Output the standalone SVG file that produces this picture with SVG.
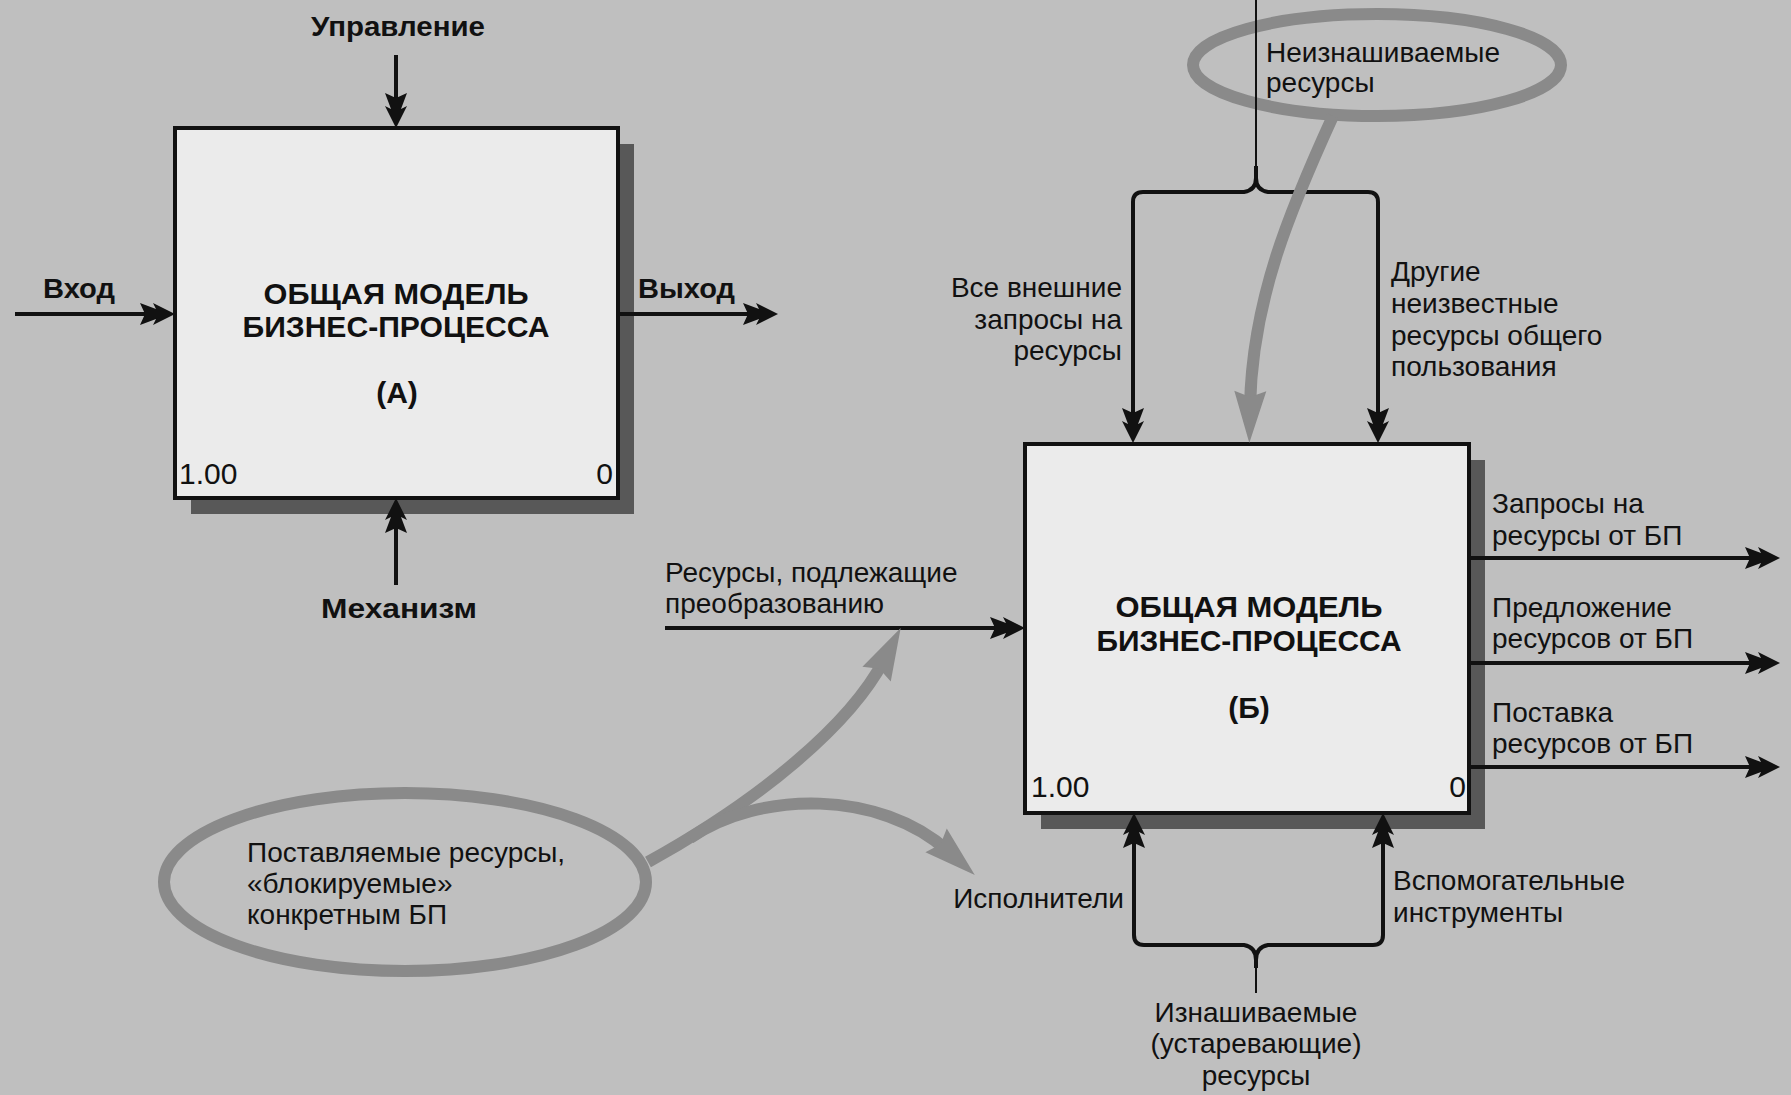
<svg xmlns="http://www.w3.org/2000/svg" width="1791" height="1095" viewBox="0 0 1791 1095">
<defs>
<style>
.bg{fill:#bfbfbf}
.box{fill:#ebebeb;stroke:#111;stroke-width:4}
.shadow{fill:#585858}
.ln{fill:none;stroke:#111;stroke-width:4}
.thin{fill:none;stroke:#111;stroke-width:2}
.gr{fill:none;stroke:#8a8a8a;stroke-width:12}
.t{font-family:"Liberation Sans","DejaVu Sans",sans-serif;font-size:28px;fill:#111}
.b{font-family:"Liberation Sans","DejaVu Sans",sans-serif;font-size:27px;font-weight:bold;fill:#111}
.title{font-family:"Liberation Sans","DejaVu Sans",sans-serif;font-size:30px;font-weight:bold;fill:#111;text-anchor:middle}
.num{font-family:"Liberation Sans","DejaVu Sans",sans-serif;font-size:30px;fill:#111}
</style>
<marker id="ah" markerUnits="userSpaceOnUse" markerWidth="60" markerHeight="40" refX="-12" refY="0" orient="auto" overflow="visible" viewBox="-40 -20 60 40">
<path d="M0,0 L-22,-11 L-19,-5 L-35,-11 L-30,0 L-35,11 L-19,5 L-22,11 Z" fill="#111"/>
</marker>
<marker id="gah" markerUnits="userSpaceOnUse" markerWidth="80" markerHeight="50" refX="-36" refY="0" orient="auto" overflow="visible" viewBox="-60 -25 80 50">
<path d="M0,0 L-52,-16 L-46,0 L-52,16 Z" fill="#8a8a8a"/>
</marker>
</defs>
<rect class="bg" x="0" y="0" width="1791" height="1095"/>

<g id="node-a">
<rect class="shadow" x="191" y="144" width="443" height="370"/>
<rect class="box" x="175" y="128" width="443" height="370"/>
<text class="title" x="396" y="304" textLength="265" lengthAdjust="spacingAndGlyphs">ОБЩАЯ МОДЕЛЬ</text>
<text class="title" x="396" y="337" textLength="307" lengthAdjust="spacingAndGlyphs">БИЗНЕС-ПРОЦЕССА</text>
<text class="title" x="397" y="403">(А)</text>
<text class="num" x="179" y="484">1.00</text>
<text class="num" x="613" y="484" text-anchor="end">0</text>
</g>

<g id="node-b">
<rect class="shadow" x="1041" y="460" width="444" height="369"/>
<rect class="box" x="1025" y="444" width="444" height="369"/>
<text class="title" x="1249" y="617" textLength="267" lengthAdjust="spacingAndGlyphs">ОБЩАЯ МОДЕЛЬ</text>
<text class="title" x="1249" y="651" textLength="305" lengthAdjust="spacingAndGlyphs">БИЗНЕС-ПРОЦЕССА</text>
<text class="title" x="1249" y="718">(Б)</text>
<text class="num" x="1031" y="797">1.00</text>
<text class="num" x="1466" y="797" text-anchor="end">0</text>
</g>

<g id="note-top">
<ellipse class="gr" cx="1377" cy="65" rx="184" ry="51"/>
<text class="t" x="1266" y="62">Неизнашиваемые</text>
<text class="t" x="1266" y="92">ресурсы</text>
</g>

<g id="note-bottom">
<ellipse class="gr" cx="405" cy="882" rx="241" ry="89"/>
<text class="t" x="247" y="862">Поставляемые ресурсы,</text>
<text class="t" x="247" y="893">«блокируемые»</text>
<text class="t" x="247" y="924">конкретным БП</text>
</g>

<g id="connectors">
<path class="ln" d="M396 55 L396 116" marker-end="url(#ah)"/>
<path class="ln" d="M15 314 L163 314" marker-end="url(#ah)"/>
<path class="ln" d="M618 314 L766 314" marker-end="url(#ah)"/>
<path class="ln" d="M396 585 L396 510" marker-end="url(#ah)"/>
<path class="thin" d="M1256 0 L1256 166"/>
<path class="ln" d="M1256 166 L1256 178 Q1256 190 1244 192 L1143 192 Q1133 192 1133 202 L1133 431" marker-end="url(#ah)"/>
<path class="ln" d="M1256 178 Q1256 190 1268 192 L1368 192 Q1378 192 1378 202 L1378 431" marker-end="url(#ah)"/>
<path class="ln" d="M665 628 L1013 628" marker-end="url(#ah)"/>
<path class="ln" d="M1469 558 L1768 558" marker-end="url(#ah)"/>
<path class="ln" d="M1469 663 L1768 663" marker-end="url(#ah)"/>
<path class="ln" d="M1469 767 L1768 767" marker-end="url(#ah)"/>
<path class="thin" d="M1256 993 L1256 966"/>
<path class="ln" d="M1256 968 L1256 960 Q1256 947 1244 945 L1144 945 Q1134 945 1134 935 L1134 825" marker-end="url(#ah)"/>
<path class="ln" d="M1256 960 Q1256 947 1268 945 L1373 945 Q1383 945 1383 935 L1383 825" marker-end="url(#ah)"/>
<path class="gr" d="M1333 116 C1290 210 1252 300 1250 407" marker-end="url(#gah)"/>
<path class="gr" d="M648 862 C760 800 850 725 884 660" marker-end="url(#gah)"/>
<path class="gr" d="M690 838 C760 790 880 790 948 851" marker-end="url(#gah)"/>
</g>

<g id="labels">
<text class="b" x="398" y="36" text-anchor="middle" textLength="174" lengthAdjust="spacingAndGlyphs">Управление</text>
<text class="b" x="43" y="298" textLength="72" lengthAdjust="spacingAndGlyphs">Вход</text>
<text class="b" x="638" y="298" textLength="97" lengthAdjust="spacingAndGlyphs">Выход</text>
<text class="b" x="399" y="618" text-anchor="middle" textLength="156" lengthAdjust="spacingAndGlyphs">Механизм</text>
<text class="t" x="1122" y="297" text-anchor="end">Все внешние</text>
<text class="t" x="1122" y="329" text-anchor="end">запросы на</text>
<text class="t" x="1122" y="360" text-anchor="end">ресурсы</text>
<text class="t" x="1391" y="281">Другие</text>
<text class="t" x="1391" y="313">неизвестные</text>
<text class="t" x="1391" y="345">ресурсы общего</text>
<text class="t" x="1391" y="376">пользования</text>
<text class="t" x="665" y="582">Ресурсы, подлежащие</text>
<text class="t" x="665" y="613">преобразованию</text>
<text class="t" x="1492" y="513">Запросы на</text>
<text class="t" x="1492" y="545">ресурсы от БП</text>
<text class="t" x="1492" y="617">Предложение</text>
<text class="t" x="1492" y="648">ресурсов от БП</text>
<text class="t" x="1492" y="722">Поставка</text>
<text class="t" x="1492" y="753">ресурсов от БП</text>
<text class="t" x="1124" y="908" text-anchor="end">Исполнители</text>
<text class="t" x="1393" y="890">Вспомогательные</text>
<text class="t" x="1393" y="922">инструменты</text>
<text class="t" x="1256" y="1022" text-anchor="middle">Изнашиваемые</text>
<text class="t" x="1256" y="1053" text-anchor="middle">(устаревающие)</text>
<text class="t" x="1256" y="1085" text-anchor="middle">ресурсы</text>
</g>
</svg>
